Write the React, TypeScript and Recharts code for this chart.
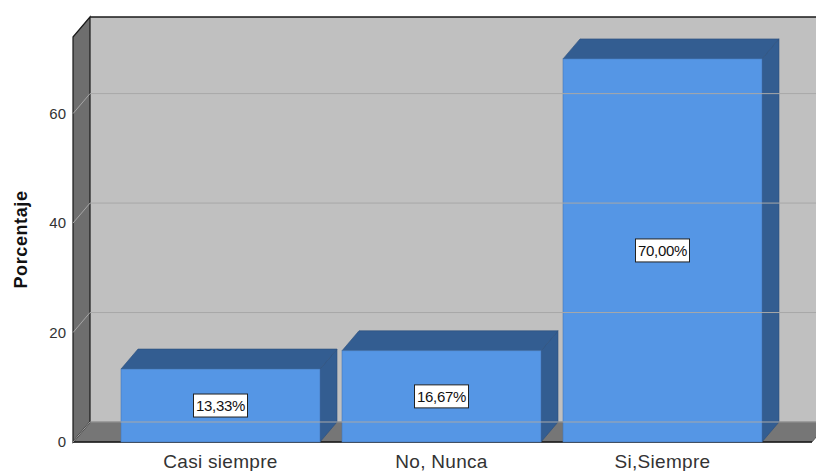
import { Bar, BarChart, LabelList, ReferenceArea, ReferenceLine, XAxis, YAxis } from 'recharts'

const categories = ['Casi siempre', 'No, Nunca', 'Si,Siempre']
const percentages = [13.33, 16.67, 70.0]
const yTicks = [0, 20, 40, 60]

const data = categories.map((name, i) => ({ name, value: percentages[i] }))

// depth of the 3D effect
const DX = 17
const DY = -20
const FONT = 'Arial, "Liberation Sans", sans-serif'

const Walls = (props: any) => {
  const { x, y, width, height } = props
  const bottom = y + height
  return (
    <g>
      <rect x={x + DX} y={y + DY} width={width + 40} height={height} fill="#c0c0c0" />
      <polygon
        points={`${x},${bottom} ${x + DX},${bottom + DY} ${x + width + DX},${bottom + DY} ${x + width},${bottom}`}
        fill="#767676"
        stroke="#4a4a4a"
        strokeWidth={0.8}
      />
      <polygon
        points={`${x},${y} ${x + DX},${y + DY} ${x + DX},${bottom + DY} ${x},${bottom}`}
        fill="#6e6e6e"
        stroke="#1a1a1a"
        strokeWidth={1.2}
      />
      <line x1={x + DX} y1={y + DY} x2={x + width + DX + 40} y2={y + DY} stroke="#1a1a1a" strokeWidth={1.5} />
      <line x1={x} y1={bottom} x2={x + width} y2={bottom} stroke="#1a1a1a" strokeWidth={1.5} />
    </g>
  )
}

const GridLine = (props: any) => {
  const { x1, y1, x2 } = props
  return (
    <g>
      <line x1={x1} y1={y1} x2={x1 + DX} y2={y1 + DY} stroke="#a6a6a6" strokeWidth={1} />
      <line x1={x1 + DX} y1={y1 + DY} x2={x2 + DX + 40} y2={y1 + DY} stroke="#a8a8a8" strokeWidth={1} />
    </g>
  )
}

const Bar3D = (props: any) => {
  const { x, y, width, height } = props
  const r = x + width
  const b = y + height
  return (
    <g>
      <polygon
        points={`${r},${y} ${r + DX},${y + DY} ${r + DX},${b + DY} ${r},${b}`}
        fill="#335d91"
        stroke="#2b4f7c"
        strokeWidth={0.6}
      />
      <polygon
        points={`${x},${y} ${x + DX},${y + DY} ${r + DX},${y + DY} ${r},${y}`}
        fill="#335d91"
        stroke="#2b4f7c"
        strokeWidth={0.6}
      />
      <rect x={x} y={y} width={width} height={height} fill="#5596e5" stroke="#4677b4" strokeWidth={0.6} />
    </g>
  )
}

const BoxLabel = (props: any) => {
  const { x, y, width, height, value } = props
  const text = Number(value).toFixed(2).replace('.', ',') + '%'
  const cx = x + width / 2
  const cy = y + height / 2
  const w = 54
  const h = 23
  return (
    <g>
      <rect x={cx - w / 2} y={cy - h / 2} width={w} height={h} fill="#ffffff" stroke="#222" strokeWidth={1} />
      <text
        x={cx}
        y={cy}
        textAnchor="middle"
        dominantBaseline="central"
        fontSize={15}
        letterSpacing={-0.3}
        fontFamily={FONT}
        fill="#111"
      >
        {text}
      </text>
    </g>
  )
}

const AxisTitle = (props: any) => {
  const { viewBox } = props
  const cx = viewBox.x + 21
  const cy = viewBox.y + viewBox.height / 2
  return (
    <text
      x={cx}
      y={cy}
      transform={`rotate(-90, ${cx}, ${cy})`}
      textAnchor="middle"
      dominantBaseline="central"
      fontSize={18}
      fontWeight="bold"
      letterSpacing={0.6}
      fontFamily={FONT}
      fill="#111"
    >
      Porcentaje
    </text>
  )
}

export default function App() {
  return (
    <div style={{ position: 'absolute', left: 0, top: 0, width: 816, height: 471, background: '#fff' }}>
      <BarChart width={816} height={471} data={data} margin={{ top: 37, right: 4, bottom: 0, left: 0 }}>
        <XAxis
          dataKey="name"
          axisLine={false}
          tickLine={false}
          tickSize={0}
          tickMargin={13}
          height={29}
          interval={0}
          padding={{ left: 37, right: 39 }}
          tick={{ fontSize: 19, fill: '#333', fontFamily: FONT, letterSpacing: 0.3 }}
        />
        <XAxis xAxisId="wall" type="number" domain={[0, 1]} allowDataOverflow hide />
        <YAxis
          domain={[0, 74]}
          ticks={yTicks}
          width={73}
          axisLine={false}
          tickLine={false}
          tickSize={0}
          tickMargin={7}
          tick={{ fontSize: 15, fill: '#333', fontFamily: FONT }}
          label={<AxisTitle />}
        />
        <ReferenceArea xAxisId="wall" y1={0} y2={74} shape={<Walls />} ifOverflow="visible" />
        {yTicks.map((t) => (
          <ReferenceLine key={t} xAxisId="wall" y={t} shape={<GridLine />} ifOverflow="visible" />
        ))}
        <Bar dataKey="value" barSize={199} shape={<Bar3D />} isAnimationActive={false}>
          <LabelList dataKey="value" content={<BoxLabel />} />
        </Bar>
      </BarChart>
    </div>
  )
}
